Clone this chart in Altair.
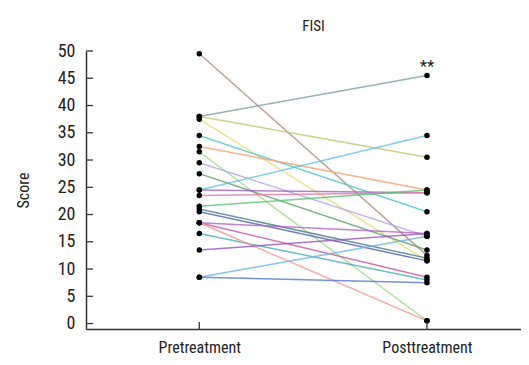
import altair as alt
import pandas as pd

groups = ["Pretreatment", "Posttreatment"]
pre = [49.5, 38.0, 38.0, 37.5, 34.5, 32.5, 31.5, 29.5, 27.5, 24.5, 24.5, 23.5,
       21.5, 21.0, 20.5, 18.5, 18.5, 16.5, 18.5, 13.5, 8.5, 8.5]
post = [12.5, 45.5, 30.5, 11.5, 20.5, 24.5, 0.5, 16.0, 13.5, 34.5, 24.0, 24.0,
        24.5, 12.0, 11.5, 8.5, 16.5, 8.0, 0.5, 16.5, 16.0, 7.5]
colors = ["#a89080", "#7a9c9c", "#b8c86a", "#e2dc70", "#4cc4c4", "#f0a070",
          "#a2d88c", "#b4a4e2", "#5e9c6c", "#5cc0e0", "#a060c0", "#e878a8",
          "#54c474", "#4c7c8c", "#4c5cb4", "#c454a4", "#b064c4", "#44acb4",
          "#f09494", "#9454c4", "#64b4e4", "#5474d4"]
y_ticks = [0, 5, 10, 15, 20, 25, 30, 35, 40, 45, 50]
sig_label = "**"
sig_value = 45.5

rows = []
for i, (a, b) in enumerate(zip(pre, post)):
    rows.append({"id": i, "pos": 0, "score": a, "col": colors[i]})
    rows.append({"id": i, "pos": 1, "score": b, "col": colors[i]})
df = pd.DataFrame(rows)

FONT = "Liberation Sans Narrow, Roboto Condensed, Liberation Sans, sans-serif"
W, H = 435, 278
xs = alt.Scale(domain=[-0.4976, 1.413], nice=False, zero=False)
ys = alt.Scale(domain=[-1.0, 50], nice=False, zero=False)
label_expr = "datum.value == 0 ? '%s' : (datum.value == 1 ? '%s' : '')" % (groups[0], groups[1])

xaxis = alt.Axis(values=[0, 1], labelExpr=label_expr,
                 title=None, tickSize=0, labelPadding=10, labelFontSize=16, labelFont=FONT,
                 labelColor="#222", domainColor="#333", domainWidth=1.5, grid=False,
                 labelOverlap=False, labelBound=False)
yaxis = alt.Axis(values=y_ticks, title="Score",
                 tickSize=0, labelPadding=11, labelFontSize=18, labelFont=FONT,
                 labelColor="#222", titleFont=FONT, titleFontSize=16, titleFontWeight="normal",
                 titleColor="#222", titlePadding=26, domainColor="#333", domainWidth=1.5,
                 grid=False, labelOverlap=False, labelFlush=False)

lines = alt.Chart(df).mark_line(strokeWidth=1.5, opacity=0.8).encode(
    x=alt.X("pos:Q", scale=xs, axis=xaxis, title=None),
    y=alt.Y("score:Q", scale=ys, axis=yaxis, title="Score"),
    detail="id:N",
    color=alt.Color("col:N", scale=None),
)

points = alt.Chart(df).mark_circle(size=30, color="black", opacity=1).encode(
    x=alt.X("pos:Q", scale=xs, axis=xaxis, title=None),
    y=alt.Y("score:Q", scale=ys, axis=yaxis, title="Score")
)

ytick_df = pd.DataFrame({"score": y_ticks})
yticks = alt.Chart(ytick_df).mark_rule(color="#333", strokeWidth=1.3).encode(
    x=alt.value(0), x2=alt.value(7),
    y=alt.Y("score:Q", scale=ys, axis=yaxis, title="Score")
)
xtick_df = pd.DataFrame({"pos": [0, 1]})
xticks = alt.Chart(xtick_df).mark_rule(color="#333", strokeWidth=1.3).encode(
    x=alt.X("pos:Q", scale=xs, axis=xaxis, title=None), y=alt.value(H), y2=alt.value(H - 7)
)

sig_df = pd.DataFrame({"pos": [1], "score": [sig_value], "t": [sig_label]})
sig = alt.Chart(sig_df).mark_text(fontSize=17, font=FONT, dy=-9, color="#222").encode(
    x=alt.X("pos:Q", scale=xs, axis=xaxis, title=None),
    y=alt.Y("score:Q", scale=ys, axis=yaxis, title="Score"),
    text="t:N"
)

chart = alt.layer(lines, points, yticks, xticks, sig).properties(
    width=W, height=H,
    title=alt.TitleParams("FISI", font=FONT, fontSize=15, fontWeight="normal",
                          color="#222", anchor="middle", dx=10, offset=8),
    autosize=alt.AutoSizeParams(type="none"),
    padding={"left": 78, "top": 43, "right": 0, "bottom": 28},
).configure_view(stroke=None)

chart.save("out.html", embed_options={"renderer": "svg", "actions": False})
